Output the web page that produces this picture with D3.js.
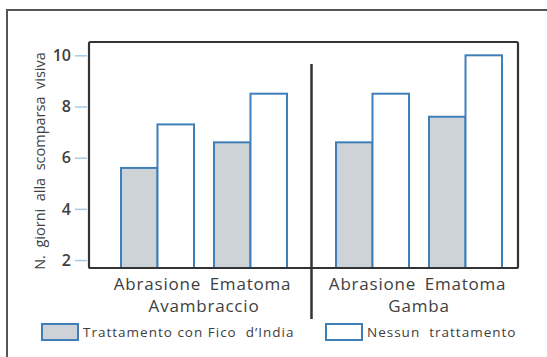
<!DOCTYPE html>
<html>
<head>
<meta charset="utf-8">
<script src="https://cdn.jsdelivr.net/npm/d3@7"></script>
<style>
  body { margin: 0; background: #fff; }
  svg { display: block; }
</style>
</head>
<body>
<svg id="chart" width="547" height="357"></svg>
<script>
// data
let sections = ["Avambraccio", "Gamba"];
let types = ["Abrasione", "Ematoma"];
let seriesNames = ["Trattamento con Fico  d\u2019India", "Nessun  trattamento"];
let ficoValues = [5.6, 6.6, 6.6, 7.6];      // Avambraccio-Abrasione, Avambraccio-Ematoma, Gamba-Abrasione, Gamba-Ematoma
let nessunoValues = [7.3, 8.5, 8.5, 10];
let yTicks = [2, 4, 6, 8, 10];
let yLabel = "N.  giorni  alla  scomparsa  visiva";

let fillColors = ["#cdd3d6", "#ffffff"];
let strokeColor = "#3f7fb8";
let textColor = "#404040";
let fontFamily = "'Open Sans', sans-serif";

let rows = [];
sections.forEach(function (s, i) {
    types.forEach(function (t, j) {
        let k = i * types.length + j;
        rows.push({section: s, type: t, values: [ficoValues[k], nessunoValues[k]]});
    });
});

function drawChart(svgId) {
    let svg = d3.select(svgId);
    let plot = {left: 89, right: 518, top: 42, bottom: 268};

    // outer frame (only left and top visible)
    svg.append("path")
        .attr("d", "M7,357 L7,10 L547,10")
        .style("fill", "none")
        .style("stroke", "#555")
        .style("stroke-width", 2);

    let y = d3.scaleLinear()
        .domain([1.69, 10.52])
        .range([plot.bottom, plot.top]);

    let x0 = d3.scaleBand()
        .domain(sections)
        .range([121, 502])
        .paddingInner(0.228);
    let x1 = d3.scaleBand()
        .domain(types)
        .range([0, x0.bandwidth()])
        .paddingInner(0.215);
    let x2 = d3.scaleBand()
        .domain([0, 1])
        .range([0, x1.bandwidth()]);

    // bars
    let groups = svg.selectAll(".grp")
        .data(rows)
        .enter()
        .append("g")
        .attr("class", "grp")
        .attr("transform", d => "translate(" + (x0(d.section) + x1(d.type)) + ",0)");

    groups.selectAll("rect")
        .data(d => d.values.map((v, i) => ({i: i, v: v})))
        .enter()
        .append("rect")
        .attr("x", d => x2(d.i))
        .attr("y", d => y(d.v))
        .attr("width", x2.bandwidth())
        .attr("height", d => plot.bottom - y(d.v))
        .style("fill", d => fillColors[d.i])
        .style("stroke", strokeColor)
        .style("stroke-width", 2);

    // plot frame
    svg.append("rect")
        .attr("x", plot.left)
        .attr("y", plot.top)
        .attr("width", plot.right - plot.left)
        .attr("height", plot.bottom - plot.top)
        .attr("rx", 1.5)
        .style("fill", "none")
        .style("stroke", "#333")
        .style("stroke-width", 2.2);

    // y axis
    let axis = svg.append("g")
        .attr("transform", "translate(" + (plot.left - 2) + ",0)")
        .call(d3.axisLeft(y).tickValues(yTicks).tickSize(12).tickPadding(4));
    axis.select(".domain").remove();
    axis.selectAll(".tick line")
        .style("stroke", "#a9c9e2")
        .style("stroke-width", 1.5);
    axis.selectAll(".tick text")
        .style("font-family", fontFamily)
        .style("font-size", "16px")
        .style("font-weight", 600)
        .style("fill", textColor);

    svg.append("text")
        .attr("transform", "translate(45,161) rotate(-90)")
        .attr("text-anchor", "middle")
        .style("font-family", fontFamily)
        .style("font-size", "14.5px")
        .style("fill", textColor)
        .style("white-space", "pre")
        .text(yLabel);

    // divider between sections
    let divX = x0(sections[0]) + x0.bandwidth() + (x0(sections[1]) - x0(sections[0]) - x0.bandwidth()) / 2;
    svg.append("line")
        .attr("x1", divX)
        .attr("x2", divX)
        .attr("y1", 64)
        .attr("y2", 319)
        .style("stroke", "#333")
        .style("stroke-width", 2.5);

    // category labels
    svg.selectAll(".typeLabel")
        .data(rows)
        .enter()
        .append("text")
        .attr("class", "typeLabel")
        .attr("x", d => x0(d.section) + x1(d.type) + x1.bandwidth() / 2)
        .attr("y", 290)
        .attr("text-anchor", "middle")
        .style("font-family", fontFamily)
        .style("font-size", "17px")
        .style("letter-spacing", "0.8px")
        .style("fill", textColor)
        .text(d => d.type);

    svg.selectAll(".sectionLabel")
        .data(sections)
        .enter()
        .append("text")
        .attr("class", "sectionLabel")
        .attr("x", d => x0(d) + x0.bandwidth() / 2)
        .attr("y", 312)
        .attr("text-anchor", "middle")
        .style("font-family", fontFamily)
        .style("font-size", "17px")
        .style("letter-spacing", "0.8px")
        .style("fill", textColor)
        .text(d => d);

    // legend
    let legendX = [42, 326];
    seriesNames.forEach(function (name, i) {
        svg.append("rect")
            .attr("x", legendX[i])
            .attr("y", 324)
            .attr("width", 36)
            .attr("height", 16)
            .style("fill", fillColors[i])
            .style("stroke", strokeColor)
            .style("stroke-width", 2);
        svg.append("text")
            .attr("x", legendX[i] + 41)
            .attr("y", 337)
            .style("font-family", fontFamily)
            .style("font-size", "13.5px")
            .style("letter-spacing", "1px")
            .style("fill", textColor)
            .style("white-space", "pre")
            .text(name);
    });
}

drawChart("#chart");
</script>
</body>
</html>
